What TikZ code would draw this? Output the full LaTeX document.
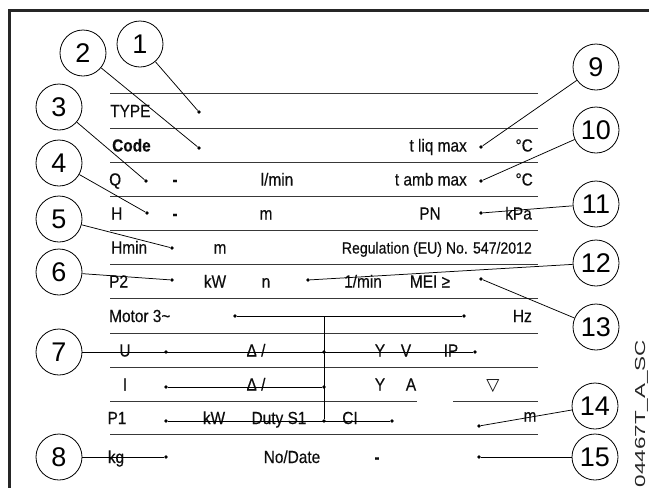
\documentclass[tikz,border=0pt]{standalone}
\usepackage{fontspec}
\setmainfont{Liberation Sans}
\newfontfamily\narrowfont[FakeStretch=0.88, FakeBold=0.35]{Liberation Sans}
\newfontfamily\widefont[FakeStretch=1.55]{Liberation Sans}
\newfontfamily\symfont{DejaVu Sans}

\begin{document}
\begin{tikzpicture}[x=1pt, y=-1pt,
    num/.style={draw, circle, line width=0.8pt, minimum size=46pt, inner sep=0pt, font=\fontsize{27}{27}\selectfont},
    lbl/.style={anchor=base, inner sep=0pt, text=black!95, font=\narrowfont\fontsize{17.5}{20}\selectfont},
    dot/.style={circle, fill=black, inner sep=0pt, minimum size=3.8pt},
    lead/.style={line width=0.75pt},
    rule/.style={line width=0.9pt, black!78}]
    \useasboundingbox (0,0) rectangle (649,488);

    % Plate border
    \draw[line width=2.2pt, black!85] (649,10.5) -- (9.5,10.5) -- (9.5,488);

    % Rows of the plate
    \foreach \y in {93,128,162,196,230,264,298,333,367,434}
        \draw[rule] (110,\y) -- (538,\y);
    \draw[rule] (110,401) -- (417,401);
    \draw[rule] (453,401) -- (538,401);

    % Texts printed on the plate
    \node[lbl, anchor=base west] (type) at (110,117) {TYPE};
    \node[lbl, anchor=base west, font=\narrowfont\bfseries\fontsize{17.5}{20}\selectfont] (code) at (112,151.5) {Code};
    \node[lbl, anchor=base east] (tliq) at (467,151.5) {t liq max};
    \node[lbl, anchor=base east] (degliq) at (533,151.5) {°C};
    \node[lbl, anchor=base west] (q) at (109,185.5) {Q};
    \node[lbl, font=\narrowfont\bfseries\fontsize{17.5}{20}\selectfont] (qdash) at (175,185.5) {-};
    \node[lbl] (lmin) at (277,185.5) {l/min};
    \node[lbl, anchor=base east] (tamb) at (467,185.5) {t amb max};
    \node[lbl, anchor=base east] (degamb) at (533,185.5) {°C};
    \node[lbl, anchor=base west] (h) at (111,219.5) {H};
    \node[lbl, font=\narrowfont\bfseries\fontsize{17.5}{20}\selectfont] (hdash) at (175,219.5) {-};
    \node[lbl] (hm) at (266,219.5) {m};
    \node[lbl] (pn) at (430,219.5) {PN};
    \node[lbl, anchor=base east] (kpa) at (532,219.5) {kPa};
    \node[lbl, anchor=base west] (hmin) at (111,253.5) {Hmin};
    \node[lbl] (hminm) at (220,253.5) {m};
    \node[lbl, anchor=base east, font=\narrowfont\fontsize{16}{18}\selectfont] (reg) at (532,253.5) {Regulation (EU) No. 547/2012};
    \node[lbl, anchor=base west] (ptwo) at (109,287.5) {P2};
    \node[lbl] (ptwokw) at (215,287.5) {kW};
    \node[lbl] (n) at (266,287.5) {n};
    \node[lbl] (rpm) at (363,287.5) {1/min};
    \node[lbl] (mei) at (430,287.5) {MEI ≥};
    \node[lbl, anchor=base west] (motor) at (109,322) {Motor 3\textasciitilde};
    \node[lbl, anchor=base east] (hz) at (532,322) {Hz};
    \node[lbl] (u) at (125,356.5) {U};
    \node[lbl] (udelta) at (256,356.5) {Δ /};
    \node[lbl] (uy) at (380,356.5) {Y};
    \node[lbl] (v) at (406,356.5) {V};
    \node[lbl] (ip) at (451,356.5) {IP};
    \node[lbl] (i) at (125,390.5) {I};
    \node[lbl] (idelta) at (256,390.5) {Δ /};
    \node[lbl] (iy) at (380,390.5) {Y};
    \node[lbl] (a) at (411,390.5) {A};
    \node[text=black!95, inner sep=0pt, font=\symfont\fontsize{17}{17}\selectfont] (level) at (493,386) {▽};
    \node[lbl] (pone) at (117,424) {P1};
    \node[lbl] (ponekw) at (214,424) {kW};
    \node[lbl] (duty) at (279,424) {Duty S1};
    \node[lbl] (cl) at (350,424) {CI};
    \node[lbl] (head) at (530,421.5) {m};
    \node[lbl] (kg) at (116,463) {kg};
    \node[lbl] (date) at (292,463) {No/Date};
    \node[lbl, font=\narrowfont\bfseries\fontsize{17.5}{20}\selectfont] (datedash) at (377,463) {-};
    \node[rotate=90, anchor=base west, inner sep=0pt, text=black!85, font=\widefont\fontsize{14.5}{15}\selectfont] (drawno) at (645,487.5) {04467T\_A\_SC};

    % Motor wiring
    \node[dot] (m1) at (235,316) {};
    \node[dot] (m2) at (464,316) {};
    \coordinate (mj) at (324,316);
    \node[dot] (u1) at (166,352) {};
    \node[dot] (uj) at (324,352) {};
    \node[dot] (u2) at (475,352) {};
    \node[dot] (i1) at (166,387) {};
    \node[dot] (ij) at (324,387) {};
    \node[dot] (p1) at (166,421) {};
    \node[dot] (pj) at (324,421) {};
    \node[dot] (p2) at (392,421) {};
    \draw[lead] (m1) -- (m2);
    \draw[lead] (mj) -- (pj);
    \draw[lead] (i1) -- (ij);
    \draw[lead] (p1) -- (p2);

    % Numbered callouts, left
    \node[num] (c1) at (140,44) {1};
    \node[num] (c2) at (83,53) {2};
    \node[num] (c3) at (59,107) {3};
    \node[num] (c4) at (59,163) {4};
    \node[num] (c5) at (59,219) {5};
    \node[num] (c6) at (59,272) {6};
    \node[num] (c7) at (59,352) {7};
    \node[num] (c8) at (59,457) {8};
    % Numbered callouts, right
    \node[num] (c9) at (596,67) {9};
    \node[num] (c10) at (596,130) {10};
    \node[num] (c11) at (596,204) {11};
    \node[num] (c12) at (596,263) {12};
    \node[num] (c13) at (596,327) {13};
    \node[num] (c14) at (595,406) {14};
    \node[num] (c15) at (595,457) {15};

    % Fields the callouts point at
    \node[dot] (d1) at (199,112) {};
    \node[dot] (d2) at (199,148) {};
    \node[dot] (d3) at (146,181) {};
    \node[dot] (d4) at (147,213) {};
    \node[dot] (d5) at (172,248) {};
    \node[dot] (d6) at (172,280) {};
    \node[dot] (d8) at (166,457) {};
    \node[dot] (d9) at (481,147) {};
    \node[dot] (d10) at (481,181) {};
    \node[dot] (d11) at (481,213) {};
    \node[dot] (d12) at (308,280) {};
    \node[dot] (d13) at (481,279) {};
    \node[dot] (d14) at (479,426) {};
    \node[dot] (d15) at (479,457) {};

    % Leaders
    \draw[lead] (c1) -- (d1);
    \draw[lead] (c2) -- (d2);
    \draw[lead] (c3) -- (d3);
    \draw[lead] (c4) -- (d4);
    \draw[lead] (c5) -- (d5);
    \draw[lead] (c6) -- (d6);
    \draw[lead] (c7) -- (u2);
    \draw[lead] (c8) -- (d8);
    \draw[lead] (c9) -- (d9);
    \draw[lead] (c10) -- (d10);
    \draw[lead] (c11) -- (d11);
    \draw[lead] (c12) -- (d12);
    \draw[lead] (c13) -- (d13);
    \draw[lead] (c14) -- (d14);
    \draw[lead] (c15) -- (d15);
\end{tikzpicture}
\end{document}
